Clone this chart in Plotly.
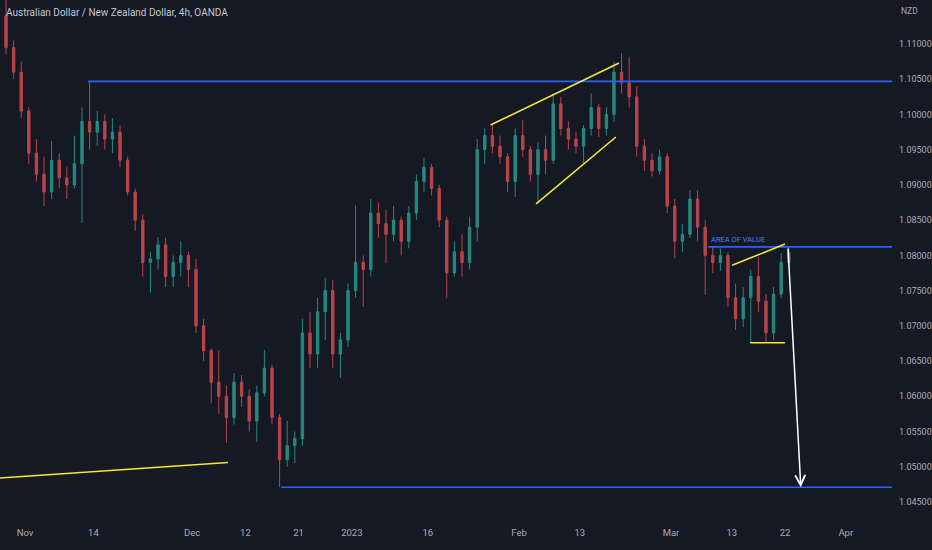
import plotly.graph_objects as go

# ---------------- data (daily OHLC) ----------------
dates = [
    "2022-10-27", "2022-10-28", "2022-10-31", "2022-11-01", "2022-11-02", "2022-11-03", "2022-11-04",
    "2022-11-07", "2022-11-08", "2022-11-09", "2022-11-10", "2022-11-11", "2022-11-14", "2022-11-15",
    "2022-11-16", "2022-11-17", "2022-11-18", "2022-11-21", "2022-11-22", "2022-11-23", "2022-11-24",
    "2022-11-25", "2022-11-28", "2022-11-29", "2022-11-30", "2022-12-01", "2022-12-02", "2022-12-05",
    "2022-12-06", "2022-12-07", "2022-12-08", "2022-12-09", "2022-12-12", "2022-12-13", "2022-12-14",
    "2022-12-15", "2022-12-16", "2022-12-19", "2022-12-20", "2022-12-21", "2022-12-22", "2022-12-23",
    "2022-12-27", "2022-12-28", "2022-12-29", "2022-12-30", "2023-01-02", "2023-01-03", "2023-01-04",
    "2023-01-05", "2023-01-06", "2023-01-09", "2023-01-10", "2023-01-11", "2023-01-12", "2023-01-13",
    "2023-01-16", "2023-01-17", "2023-01-18", "2023-01-19", "2023-01-20", "2023-01-23", "2023-01-24",
    "2023-01-25", "2023-01-26", "2023-01-27", "2023-01-30", "2023-01-31", "2023-02-01", "2023-02-02",
    "2023-02-03", "2023-02-06", "2023-02-07", "2023-02-08", "2023-02-09", "2023-02-10", "2023-02-13",
    "2023-02-14", "2023-02-15", "2023-02-16", "2023-02-17", "2023-02-20", "2023-02-21", "2023-02-22",
    "2023-02-23", "2023-02-24", "2023-02-27", "2023-02-28", "2023-03-01", "2023-03-02", "2023-03-03",
    "2023-03-06", "2023-03-07", "2023-03-08", "2023-03-09", "2023-03-10", "2023-03-13", "2023-03-14",
    "2023-03-15", "2023-03-16", "2023-03-17", "2023-03-20", "2023-03-21", "2023-03-22",
]

opens = [
    1.1140, 1.1095, 1.1060, 1.1005, 1.0945, 1.0915, 1.0890,
    1.0935, 1.0910, 1.0900, 1.0930, 1.0990, 1.0975, 1.0990,
    1.0965, 1.0975, 1.0935, 1.0890, 1.0850, 1.0790, 1.0795,
    1.0815, 1.0770, 1.0790, 1.0800, 1.0780, 1.0700, 1.0665,
    1.0620, 1.0600, 1.0570, 1.0620, 1.0600, 1.0565, 1.0605,
    1.0640, 1.0570, 1.0510, 1.0530, 1.0540, 1.0690, 1.0660,
    1.0720, 1.0750, 1.0660, 1.0680, 1.0750, 1.0790, 1.0780,
    1.0860, 1.0845, 1.0830, 1.0850, 1.0820, 1.0860, 1.0905,
    1.0925, 1.0895, 1.0850, 1.0775, 1.0805, 1.0790, 1.0840,
    1.0950, 1.0970, 1.0955, 1.0940, 1.0905, 1.0970, 1.0950,
    1.0915, 1.0950, 1.0935, 1.1015, 1.0980, 1.0965, 1.0955,
    1.0980, 1.1010, 1.0980, 1.1000, 1.1060, 1.1045, 1.1025,
    1.0955, 1.0935, 1.0920, 1.0940, 1.0870, 1.0820, 1.0830,
    1.0880, 1.0840, 1.0800, 1.0790, 1.0800, 1.0740, 1.0710,
    1.0740, 1.0770, 1.0735, 1.0690, 1.0745, 1.0790,
]

highs = [
    1.1165, 1.1105, 1.1075, 1.1010, 1.0965, 1.0940, 1.0962,
    1.0945, 1.0925, 1.0970, 1.1010, 1.1047, 1.1005, 1.1000,
    1.0995, 1.0985, 1.0940, 1.0895, 1.0858, 1.0805, 1.0826,
    1.0825, 1.0800, 1.0820, 1.0805, 1.0795, 1.0710, 1.0668,
    1.0665, 1.0615, 1.0633, 1.0630, 1.0610, 1.0615, 1.0666,
    1.0645, 1.0575, 1.0565, 1.0550, 1.0710, 1.0720, 1.0740,
    1.0768, 1.0765, 1.0690, 1.0760, 1.0871, 1.0800, 1.0880,
    1.0875, 1.0865, 1.0870, 1.0855, 1.0870, 1.0915, 1.0938,
    1.0930, 1.0900, 1.0855, 1.0820, 1.0830, 1.0855, 1.0965,
    1.0980, 1.0986, 1.0970, 1.0945, 1.0980, 1.0992, 1.0955,
    1.0960, 1.0970, 1.1030, 1.1025, 1.0990, 1.0975, 1.0985,
    1.1030, 1.1015, 1.1010, 1.1075, 1.1087, 1.1082, 1.1040,
    1.0965, 1.0945, 1.0950, 1.0945, 1.0880, 1.0845, 1.0893,
    1.0892, 1.0850, 1.0812, 1.0810, 1.0805, 1.0760, 1.0755,
    1.0780, 1.0798, 1.0745, 1.0755, 1.0803, 1.0812,
]

lows = [
    1.1085, 1.1050, 1.0995, 1.0930, 1.0905, 1.0870, 1.0880,
    1.0895, 1.0880, 1.0895, 1.0846, 1.0950, 1.0955, 1.0950,
    1.0945, 1.0925, 1.0885, 1.0835, 1.0770, 1.0747, 1.0780,
    1.0755, 1.0755, 1.0770, 1.0755, 1.0690, 1.0650, 1.0590,
    1.0575, 1.0534, 1.0560, 1.0585, 1.0550, 1.0535, 1.0600,
    1.0560, 1.0471, 1.0500, 1.0505, 1.0530, 1.0640, 1.0640,
    1.0680, 1.0640, 1.0626, 1.0670, 1.0740, 1.0727, 1.0770,
    1.0825, 1.0789, 1.0820, 1.0800, 1.0810, 1.0850, 1.0890,
    1.0885, 1.0840, 1.0739, 1.0770, 1.0770, 1.0780, 1.0820,
    1.0930, 1.0945, 1.0930, 1.0890, 1.0883, 1.0940, 1.0905,
    1.0874, 1.0915, 1.0930, 1.0970, 1.0950, 1.0945, 1.0931,
    1.0970, 1.0968, 1.0970, 1.0990, 1.1030, 1.1010, 1.0940,
    1.0920, 1.0912, 1.0915, 1.0860, 1.0796, 1.0805, 1.0825,
    1.0820, 1.0744, 1.0775, 1.0778, 1.0727, 1.0694, 1.0698,
    1.0677, 1.0720, 1.0676, 1.0680, 1.0740, 1.0785,
]

closes = [
    1.1095, 1.1060, 1.1005, 1.0945, 1.0915, 1.0890, 1.0935,
    1.0910, 1.0900, 1.0930, 1.0990, 1.0975, 1.0990, 1.0965,
    1.0975, 1.0935, 1.0890, 1.0850, 1.0790, 1.0795, 1.0815,
    1.0770, 1.0790, 1.0800, 1.0780, 1.0700, 1.0665, 1.0620,
    1.0600, 1.0570, 1.0620, 1.0600, 1.0565, 1.0605, 1.0640,
    1.0570, 1.0510, 1.0530, 1.0540, 1.0690, 1.0660, 1.0720,
    1.0750, 1.0660, 1.0680, 1.0750, 1.0790, 1.0780, 1.0860,
    1.0845, 1.0830, 1.0850, 1.0820, 1.0860, 1.0905, 1.0925,
    1.0895, 1.0850, 1.0775, 1.0805, 1.0790, 1.0840, 1.0950,
    1.0970, 1.0955, 1.0940, 1.0905, 1.0970, 1.0950, 1.0915,
    1.0950, 1.0935, 1.1015, 1.0980, 1.0965, 1.0955, 1.0980,
    1.1010, 1.0980, 1.1000, 1.1060, 1.1045, 1.1025, 1.0955,
    1.0935, 1.0920, 1.0940, 1.0870, 1.0820, 1.0830, 1.0880,
    1.0840, 1.0800, 1.0790, 1.0800, 1.0740, 1.0710, 1.0740,
    1.0770, 1.0735, 1.0690, 1.0745, 1.0790, 1.0805,
]

# x-axis ticks
tick_dates = ["2022-11-01", "2022-11-14", "2022-12-01", "2022-12-12", "2022-12-21", "2023-01-02",
              "2023-01-16", "2023-02-01", "2023-02-13", "2023-03-01", "2023-03-13", "2023-03-22",
              "2023-04-03"]
tick_labels = ["Nov", "14", "Dec", "12", "21", "2023", "16", "Feb", "13", "Mar", "13", "22", "Apr"]

# y-axis ticks
price_ticks = [1.045, 1.050, 1.055, 1.060, 1.065, 1.070, 1.075, 1.080,
               1.085, 1.090, 1.095, 1.100, 1.105, 1.110]
price_labels = ["1.04500", "1.05000", "1.05500", "1.06000", "1.06500", "1.07000", "1.07500",
                "1.08000", "1.08500", "1.09000", "1.09500", "1.10000", "1.10500", "1.11000"]

# horizontal levels (start date, price)
levels = [
    ("2022-11-11 07:00", 1.1047),   # top resistance
    ("2022-12-16 17:00", 1.0471),   # bottom support / target
    ("2023-03-07 22:00", 1.0812),   # area of value
]

# yellow trend lines ((date0, price0), (date1, price1))
trendlines = [
    (("2022-10-26 17:00", 1.0484), ("2022-12-07 17:00", 1.0506)),
    (("2023-01-26 06:00", 1.0985), ("2023-02-20 04:00", 1.1073)),
    (("2023-02-03 06:00", 1.0873), ("2023-02-17 18:00", 1.0968)),
    (("2023-03-13 01:00", 1.0786), ("2023-03-22 00:00", 1.0816)),
    (("2023-03-15 10:00", 1.0676), ("2023-03-22 00:00", 1.0676)),
]

# projection arrow (tail, head)
arrow_tail = ("2023-03-22 09:30", 1.0812)
arrow_head = ("2023-03-24 02:00", 1.0471)

X_RANGE = ["2022-10-26 17:00", "2023-04-11 02:00"]
Y_RANGE = [1.041734, 1.116245]

BG = "#151924"
TXT = "#a9acb5"
BLUE = "#2962ff"
YELLOW = "#f5e63a"
UP = "#26897f"
DOWN = "#b9444b"

# ---------------- figure ----------------
fig = go.Figure()
fig.add_trace(go.Candlestick(
    x=[d + " 12:00" for d in dates],
    open=opens, high=highs, low=lows, close=closes,
    increasing=dict(line=dict(color=UP, width=1), fillcolor=UP),
    decreasing=dict(line=dict(color=DOWN, width=1), fillcolor=DOWN),
    whiskerwidth=0,
    hoverinfo="skip",
))

shapes = []
for (d0, p) in levels:
    shapes.append(dict(type="line", xref="x", yref="y", x0=d0, x1=X_RANGE[1], y0=p, y1=p,
                       line=dict(color=BLUE, width=1.6)))
for (a, b) in trendlines:
    shapes.append(dict(type="line", xref="x", yref="y", x0=a[0], y0=a[1], x1=b[0], y1=b[1],
                       line=dict(color=YELLOW, width=1.6)))

annotations = [
    dict(text="Australian Dollar / New Zealand Dollar, 4h, OANDA", xref="paper", yref="paper",
         x=0, y=1, xanchor="left", yanchor="top", xshift=4, yshift=-5, showarrow=False,
         font=dict(family="Roboto, sans-serif", size=10, color="#c3c6ce")),
    dict(text="NZD", xref="paper", yref="paper", x=1, y=1, xanchor="left", yanchor="top",
         xshift=7, yshift=-4, showarrow=False,
         font=dict(family="Roboto, sans-serif", size=8.5, color=TXT)),
    dict(text="AREA OF VALUE", xref="x", yref="y", x=levels[2][0], y=levels[2][1],
         xanchor="left", yanchor="bottom", xshift=1, yshift=1, showarrow=False,
         font=dict(family="Roboto, sans-serif", size=7.5, color="#4f7dfa")),
    dict(text="", xref="x", yref="y", axref="x", ayref="y",
         x=arrow_head[0], y=arrow_head[1], ax=arrow_tail[0], ay=arrow_tail[1],
         showarrow=True, arrowhead=5, arrowsize=1.3, arrowwidth=1.5, arrowcolor="#ffffff"),
]

fig.update_layout(
    width=932, height=550,
    paper_bgcolor=BG, plot_bgcolor=BG,
    margin=dict(l=0, r=40, t=0, b=25),
    showlegend=False,
    boxgap=0.55,
    shapes=shapes,
    annotations=annotations,
    xaxis=dict(
        type="date", range=X_RANGE,
        rangebreaks=[dict(bounds=["sat", "mon"]), dict(values=["2022-12-26"])],
        rangeslider=dict(visible=False),
        tickmode="array", tickvals=tick_dates, ticktext=tick_labels,
        showgrid=False, zeroline=False, showline=False, ticks="",
        tickfont=dict(family="Roboto, sans-serif", size=9.5, color=TXT),
    ),
    yaxis=dict(
        side="right", range=Y_RANGE,
        tickmode="array", tickvals=price_ticks, ticktext=price_labels,
        showgrid=False, zeroline=False, showline=False, ticks="",
        ticklabelstandoff=6,
        tickfont=dict(family="Roboto, sans-serif", size=9, color=TXT),
    ),
)

fig.write_html(
    "out.html",
    config={"displayModeBar": False, "staticPlot": True},
    post_script="document.body.style.margin='0';document.body.style.background='" + BG + "';",
)
